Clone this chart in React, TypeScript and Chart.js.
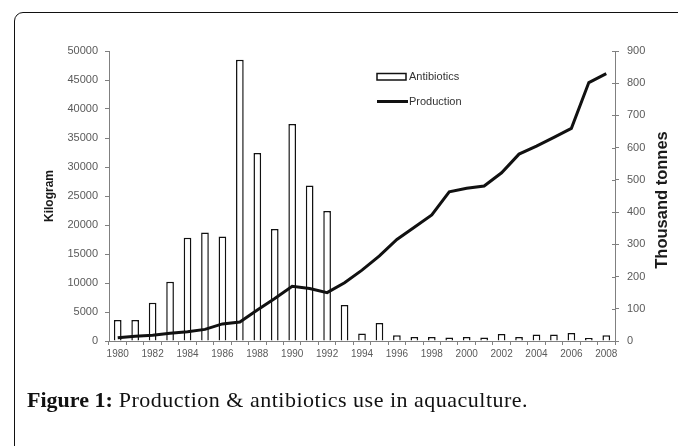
import React, { useEffect, useRef } from 'react';
import { Chart, registerables } from 'chart.js';

Chart.register(...registerables);

const years = [
  '1980', '1981', '1982', '1983', '1984', '1985', '1986', '1987', '1988', '1989',
  '1990', '1991', '1992', '1993', '1994', '1995', '1996', '1997', '1998', '1999',
  '2000', '2001', '2002', '2003', '2004', '2005', '2006', '2007', '2008',
];

const antibiotics = [
  3600, 3600, 6600, 10200, 17800, 18700, 18000, 48500, 32400, 19300,
  37400, 26800, 22400, 6200, 1300, 3100, 1000, 700, 700, 600,
  700, 600, 1200, 700, 1100, 1100, 1400, 500, 1000,
];

const production = [
  10, 15, 18, 24, 29, 36, 53, 59, 96, 132,
  170, 163, 150, 181, 220, 264, 315, 353, 391, 463,
  474, 481, 522, 580, 605, 632, 660, 802, 830,
];

const leftAxis = { min: 0, max: 50000, step: 5000, title: 'Kilogram' };
const rightAxis = { min: 0, max: 900, step: 100, title: 'Thousand tonnes' };
const seriesNames = { bars: 'Antibiotics', line: 'Production' };
const caption = { bold: 'Figure 1:', text: ' Production & antibiotics use in aquaculture.' };

const SANS = '"Liberation Sans", Arial, sans-serif';
const TICK_COLOR = '#5a5a5a';
const AXIS_COLOR = '#808080';

const overlayPlugin = {
  id: 'overlay',
  afterDraw(chart: any) {
    const ctx = chart.ctx;
    const ca = chart.chartArea;
    // inward tick marks on right axis
    const y1 = chart.scales.y1;
    ctx.save();
    ctx.strokeStyle = AXIS_COLOR;
    ctx.lineWidth = 1;
    y1.ticks.forEach((_t: any, i: number) => {
      const py = Math.round(y1.getPixelForTick(i)) + 0.5;
      ctx.beginPath();
      ctx.moveTo(ca.right - 3, py);
      ctx.lineTo(ca.right, py);
      ctx.stroke();
    });
    ctx.restore();

    // right axis title (rotated bottom-to-top)
    ctx.save();
    ctx.font = `bold 16.5px ${SANS}`;
    ctx.fillStyle = '#1a1a1a';
    ctx.textAlign = 'center';
    ctx.textBaseline = 'middle';
    ctx.translate(662, (ca.top + ca.bottom) / 2 + 4);
    ctx.rotate(-Math.PI / 2);
    ctx.fillText(rightAxis.title, 0, 0);
    ctx.restore();

    // legend
    const lx = ca.left + 268;
    ctx.save();
    ctx.font = `11px ${SANS}`;
    ctx.textBaseline = 'middle';
    ctx.textAlign = 'left';
    ctx.fillStyle = '#fff';
    ctx.strokeStyle = '#111';
    ctx.lineWidth = 1.5;
    ctx.fillRect(lx, 73.5, 29, 6.5);
    ctx.strokeRect(lx, 73.5, 29, 6.5);
    ctx.fillStyle = '#333';
    ctx.fillText(chart.data.datasets[1].label, lx + 32, 77);
    ctx.beginPath();
    ctx.lineWidth = 3;
    ctx.moveTo(lx, 101.5);
    ctx.lineTo(lx + 31, 101.5);
    ctx.stroke();
    ctx.fillText(chart.data.datasets[0].label, lx + 32, 101.5);
    ctx.restore();
  },
};

export default function App() {
  const ref = useRef<HTMLCanvasElement | null>(null);

  useEffect(() => {
    const canvas = ref.current;
    if (!canvas) return;
    const chart = new Chart(canvas, {
      type: 'bar',
      data: {
        labels: years,
        datasets: [
          {
            type: 'line',
            label: seriesNames.line,
            data: production,
            yAxisID: 'y1',
            borderColor: '#111',
            borderWidth: 3,
            pointRadius: 0,
            tension: 0,
            fill: false,
            order: 0,
          } as any,
          {
            type: 'bar',
            label: seriesNames.bars,
            data: antibiotics,
            yAxisID: 'y',
            backgroundColor: '#fff',
            borderColor: '#111',
            borderWidth: 1.5,
            barPercentage: 0.44,
            categoryPercentage: 1,
            order: 1,
          },
        ],
      },
      options: {
        responsive: false,
        animation: false,
        devicePixelRatio: 1,
        layout: { padding: { left: 0, right: 0, top: 51, bottom: 75 } },
        plugins: {
          legend: { display: false },
          tooltip: { enabled: false },
        },
        scales: {
          x: {
            offset: true,
            grid: {
              offset: true,
              drawOnChartArea: false,
              drawTicks: true,
              tickLength: 4,
              color: AXIS_COLOR,
            },
            border: { display: true, color: AXIS_COLOR, width: 1 },
            ticks: {
              autoSkip: false,
              maxRotation: 0,
              minRotation: 0,
              padding: 3,
              color: TICK_COLOR,
              font: { family: SANS, size: 10 },
              callback: (_v: any, i: number) => (i % 2 === 0 ? years[i] : ''),
            },
            afterFit: (s: any) => { s.height = 30; },
          },
          y: {
            position: 'left',
            min: leftAxis.min,
            max: leftAxis.max,
            grid: {
              drawOnChartArea: false,
              drawTicks: true,
              tickLength: 4,
              color: AXIS_COLOR,
            },
            border: { display: true, color: AXIS_COLOR, width: 1 },
            ticks: {
              stepSize: leftAxis.step,
              padding: 7,
              color: TICK_COLOR,
              font: { family: SANS, size: 11 },
              callback: (v: any) => String(v),
            },
            title: {
              display: true,
              text: leftAxis.title,
              color: '#1a1a1a',
              font: { family: SANS, size: 12, weight: 'bold' },
              padding: { top: 42, bottom: 0 },
            },
            afterFit: (s: any) => { s.width = 109; },
          },
          y1: {
            position: 'right',
            min: rightAxis.min,
            max: rightAxis.max,
            grid: {
              drawOnChartArea: false,
              drawTicks: true,
              tickLength: 4,
              color: AXIS_COLOR,
            },
            border: { display: true, color: AXIS_COLOR, width: 1 },
            ticks: {
              stepSize: rightAxis.step,
              padding: 8,
              color: TICK_COLOR,
              font: { family: SANS, size: 11 },
              callback: (v: any) => String(v),
            },
            afterFit: (s: any) => { s.width = 63; },
          },
        },
      },
      plugins: [overlayPlugin],
    });
    return () => chart.destroy();
  }, []);

  return (
    <div
      style={{
        position: 'fixed',
        left: 0,
        top: 0,
        width: 678,
        height: 446,
        background: '#fff',
        overflow: 'hidden',
      }}
    >
      <div
        style={{
          position: 'absolute',
          left: 14,
          top: 12,
          width: 720,
          height: 520,
          border: '1.5px solid #111',
          borderRadius: 9,
          boxSizing: 'border-box',
        }}
      />
      <canvas
        ref={ref}
        width={678}
        height={446}
        style={{ position: 'absolute', left: 0, top: 0, width: 678, height: 446 }}
      />
      <div
        style={{
          position: 'absolute',
          left: 27,
          top: 389,
          fontFamily: '"Liberation Serif", "Times New Roman", serif',
          fontSize: 22,
          letterSpacing: '0.5px',
          lineHeight: '22px',
          color: '#111',
          whiteSpace: 'nowrap',
        }}
      >
        <b style={{ letterSpacing: '0px' }}>{caption.bold}</b>
        {caption.text}
      </div>
    </div>
  );
}
